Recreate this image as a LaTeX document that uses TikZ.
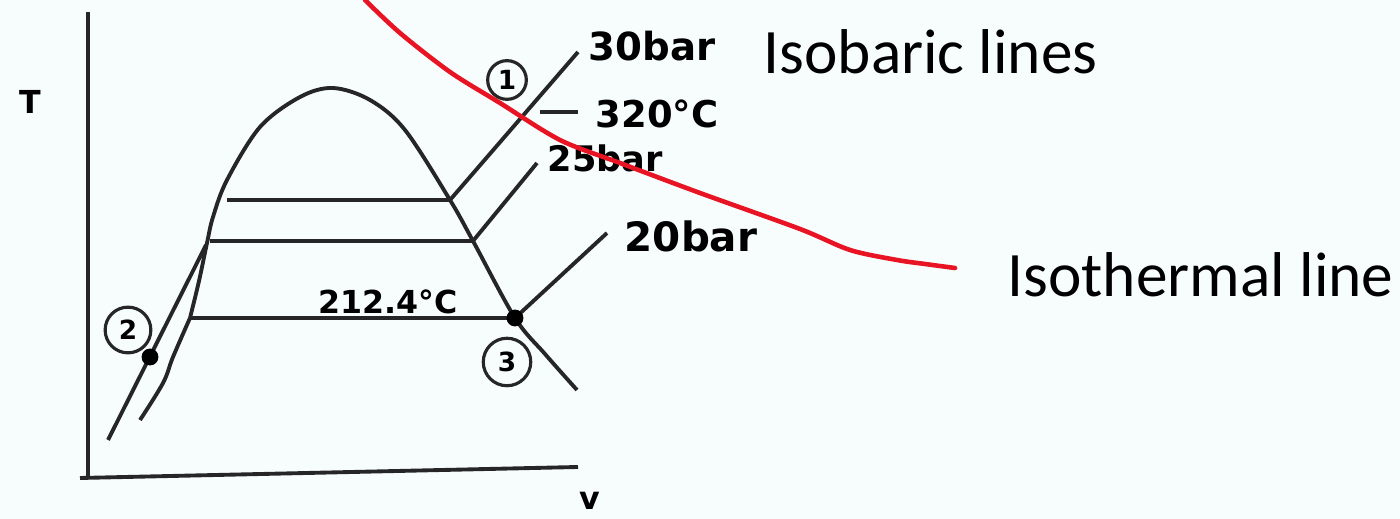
\documentclass[tikz,border=0pt]{standalone}
\usepackage{fontspec}
\setmainfont{Carlito}
\newfontfamily\hand{DejaVu Sans}
\usetikzlibrary{positioning}
\definecolor{paper}{RGB}{247,253,253}
\definecolor{pen}{RGB}{232,20,36}

\begin{document}
\begin{tikzpicture}[x=0.01cm,y=-0.01cm,
  ink/.style={draw=black!85,line width=1.1pt},
  sat/.style={ink,line join=round},
  lbl/.style={font=\hand\bfseries\fontsize{10}{10}\selectfont,inner sep=0pt,anchor=west},
  numc/.style={draw=black!85,line width=0.9pt,circle,inner sep=0pt,minimum size=#1,font=\hand\bfseries\fontsize{7.5}{7.5}\selectfont},
  dot/.style={circle,fill=black,inner sep=0pt,minimum size=4.8pt},
  big/.style={font=\fontsize{18}{18}\selectfont,inner sep=0pt,anchor=base west}]
\fill[paper] (0,0) rectangle (1400,519);
\useasboundingbox (0,0) rectangle (1400,519);
% axes
\coordinate (o) at (88,478);
\draw[ink] (88,12) -- (o);
\draw[ink] (80,478) -- (578,467);
\node[lbl,anchor=center,font=\hand\bfseries\fontsize{9}{9}\selectfont] (tlab) at (30,102) {T};
\node[lbl,anchor=center,font=\hand\bfseries\fontsize{9}{9}\selectfont] (vlab) at (590,501) {v};
% saturation dome
\draw[sat] plot[smooth,tension=0.55] coordinates {(190,318) (199,281) (207,243) (213,217) (227,180) (260,127) (300,97) (333,88) (370,100) (405,130) (450,200) (473,241) (515,318) (545,354) (577,390)};
% liquid lines
\draw[sat] plot[smooth,tension=0.6] coordinates {(190,318) (173,357) (163,383) (140,420)};
\coordinate (l0) at (206,245);
\coordinate (l1) at (108,440);
\draw[ink] (l0) -- (l1);
% isotherms in the dome
\coordinate (a0) at (227,200); \coordinate (a1) at (450,200);
\coordinate (b0) at (210,241); \coordinate (b1) at (473,241);
\coordinate (c0) at (190,318); \coordinate (c1) at (515,318);
\draw[ink] (a0) -- (a1);
\draw[ink] (b0) -- (b1);
\draw[ink] (c0) -- (c1);
% superheated isobars
\node[lbl,font=\hand\bfseries\fontsize{11}{11}\selectfont] (p30) at (588,46) {30bar};
\node[lbl] (p25) at (547,158) {25bar};
\node[lbl,font=\hand\bfseries\fontsize{11.5}{11.5}\selectfont] (p20) at (624,236) {20bar};
\coordinate (e30) at (578,52);
\coordinate (e25) at (537,163);
\coordinate (e20) at (607,233);
\draw[ink] (a1) -- (e30);
\draw[ink] (b1) -- (e25);
\draw[ink] (c1) -- (e20);
% states
\coordinate (s1) at (524,112);
\node[lbl,font=\hand\bfseries\fontsize{10.5}{10.5}\selectfont] (t1) at (595,114) {320\textdegree C};
\coordinate (d1) at (540,112);
\coordinate (d2) at (578,112);
\draw[ink] (d1) -- (d2);
\node[numc=11pt] (n1) at (507,80) {1};
\node[lbl,font=\hand\bfseries\fontsize{9}{9}\selectfont] (t3) at (318,302) {212.4\textdegree C};
\node[dot] (s3) at (515,318) {};
\node[numc=13.5pt] (n3) at (507,362) {3};
\node[dot] (s2) at (150,357) {};
\node[numc=13pt] (n2) at (128,330) {2};
% hand-drawn red marker line
\draw[pen,line width=1.3pt,line cap=round] plot[smooth,tension=0.5] coordinates {(365,0) (400,33) (450,72) (500,103) (560,140) (620,163) (700,193) (800,229) (850,250) (897,260) (925,264) (955,268)};
\node[big] (iso) at (763,74) {Isobaric lines};
\node[big] (ith) at (1007,297) {Isothermal line};
\end{tikzpicture}
\end{document}
